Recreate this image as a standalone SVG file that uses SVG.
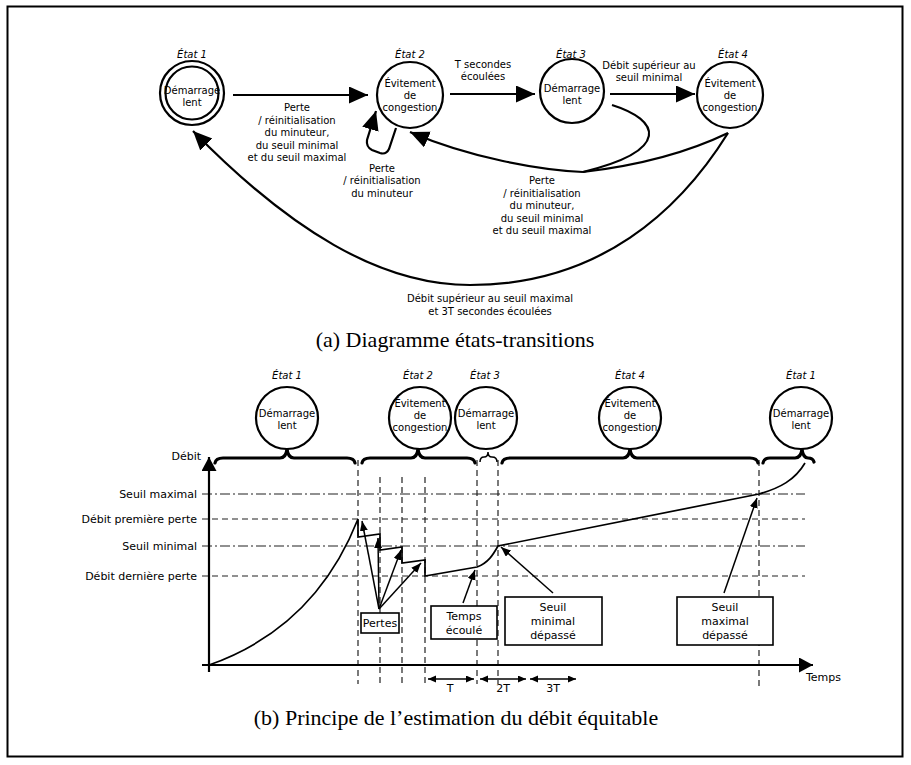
<svg xmlns="http://www.w3.org/2000/svg" width="911" height="765" viewBox="0 0 911 765">
<defs>
<marker id="big" markerUnits="userSpaceOnUse" markerWidth="20" markerHeight="18" refX="19" refY="8.5" orient="auto"><path d="M0,0 L19,8.5 L0,17 z" fill="#000"/></marker>
<marker id="ax" markerUnits="userSpaceOnUse" markerWidth="15" markerHeight="16" refX="14" refY="7.5" orient="auto"><path d="M0,0 L14,7.5 L0,15 z" fill="#000"/></marker>
<marker id="sm" markerUnits="userSpaceOnUse" markerWidth="11" markerHeight="9" refX="10" refY="4" orient="auto"><path d="M0,0 L10,4 L0,8 z" fill="#000"/></marker>
<marker id="sm2" markerUnits="userSpaceOnUse" markerWidth="10" markerHeight="8" refX="8" refY="3.5" orient="auto-start-reverse"><path d="M0,0 L8,3.5 L0,7 z" fill="#000"/></marker>
</defs>
<style>
.t{font-family:"DejaVu Sans",sans-serif;font-size:10px;text-anchor:middle;fill:#000}
.l{font-size:11px}
.e{text-anchor:end}
.st{text-anchor:start}
.it{font-style:italic}
.node{fill:#fff;stroke:#000;stroke-width:2.2}
.edge{fill:none;stroke:#000;stroke-width:2.2}
.thin{fill:none;stroke:#000;stroke-width:1.5}
.cap{font-family:"Liberation Serif",serif;font-size:22px;text-anchor:middle;fill:#000}
.dash{stroke:#222;stroke-width:1.2;stroke-dasharray:6 4;fill:none}
.dd{stroke:#222;stroke-width:1.2;stroke-dasharray:10 3 2 3;fill:none}
.box{fill:#fff;stroke:#000;stroke-width:1.6}
.brace{fill:none;stroke:#000;stroke-width:3.2;stroke-linecap:round;stroke-linejoin:round}
</style>
<rect x="7.5" y="6.5" width="895" height="750" fill="#fff" stroke="#000" stroke-width="2"/>

<!-- (a) state diagram -->
<g id="connectors-a">
<path class="edge" d="M233,95 L368,95" marker-end="url(#big)"/>
<path class="edge" d="M450,94 L535,94" marker-end="url(#big)"/>
<path class="edge" d="M610,94 L695,94" marker-end="url(#big)"/>
<path class="edge" d="M396,128 L389,149 Q386,155 380,153 L372,150 Q366,147 367,140 L376,111" marker-end="url(#big)"/>
<path class="edge" d="M612,105 C660,120 672,150 583,172"/>
<path class="edge" d="M728,133 Q668,162 583,172"/>
<path class="edge" d="M583,172 C540,170 470,158 410,132" marker-end="url(#big)"/>
<path class="edge" d="M728,133 C680,210 600,285 470,285 C380,285 290,230 193,131" marker-end="url(#big)"/>
<g class="t">
<text x="483" y="67.5">T secondes</text><text x="483" y="80">écoulées</text>
<text x="649" y="68.5">Débit supérieur au</text><text x="649" y="81">seuil minimal</text>
<text x="297" y="111">Perte</text><text x="297" y="123.5">/ réinitialisation</text><text x="297" y="136">du minuteur,</text><text x="297" y="148.5">du seuil minimal</text><text x="297" y="161">et du seuil maximal</text>
<text x="382" y="171.5">Perte</text><text x="382" y="184">/ réinitialisation</text><text x="382" y="196.5">du minuteur</text>
<text x="542" y="184">Perte</text><text x="542" y="196.5">/ réinitialisation</text><text x="542" y="209">du minuteur,</text><text x="542" y="221.5">du seuil minimal</text><text x="542" y="234">et du seuil maximal</text>
<text x="490" y="302">Débit supérieur au seuil maximal</text><text x="490" y="314.5">et 3T secondes écoulées</text>
</g>
</g>

<g id="etat1">
<circle class="node" cx="192" cy="93" r="32"/><circle class="node" cx="192" cy="93" r="26.5"/>
<text class="t it" x="192" y="58">État 1</text>
<text class="t" x="192" y="93.5">Démarrage</text><text class="t" x="192" y="106">lent</text>
</g>
<g id="etat2">
<circle class="node" cx="410" cy="95" r="33"/>
<text class="t it" x="410" y="58">État 2</text>
<text class="t" x="410" y="87">Évitement</text><text class="t" x="410" y="99">de</text><text class="t" x="410" y="111">congestion</text>
</g>
<g id="etat3">
<circle class="node" cx="572" cy="91" r="32"/>
<text class="t it" x="571" y="58">État 3</text>
<text class="t" x="572" y="92">Démarrage</text><text class="t" x="572" y="104">lent</text>
</g>
<g id="etat4">
<circle class="node" cx="730" cy="95" r="33"/>
<text class="t it" x="733" y="58">État 4</text>
<text class="t" x="730" y="87">Évitement</text><text class="t" x="730" y="99">de</text><text class="t" x="730" y="111">congestion</text>
</g>

<text class="cap" x="455" y="347">(a)  Diagramme états-transitions</text>

<!-- (b) chart -->
<g id="grid">
<path class="dd" d="M202,494 H805"/>
<path class="dash" d="M202,519 H805"/>
<path class="dd" d="M202,546 H805"/>
<path class="dash" d="M202,576 H805"/>
<path class="dash" d="M358,460 V684"/>
<path class="dash" d="M380,477 V684"/>
<path class="dash" d="M402,477 V684"/>
<path class="dash" d="M425,477 V684"/>
<path class="dash" d="M477,460 V684"/>
<path class="dash" d="M498,460 V684"/>
<path class="dash" d="M759,460 V688"/>
</g>
<g id="axes">
<path class="edge" d="M209,672 V457" marker-end="url(#ax)"/>
<path class="edge" d="M202,665 H813" marker-end="url(#ax)"/>
<text class="t l e" x="201" y="460">Débit</text>
<text class="t l e" x="197" y="498">Seuil maximal</text>
<text class="t l e" x="197" y="523">Débit première perte</text>
<text class="t l e" x="197" y="550">Seuil minimal</text>
<text class="t l e" x="197" y="580">Débit dernière perte</text>
<text class="t l st" x="806" y="681">Temps</text>
</g>
<g id="courbe">
<path class="edge" style="stroke-width:1.7" d="M209,665 C280,640 330,590 358,519 L358,537 L380,534 L380,550 L402,547 L402,563 L425,560 L425,576 L477,567 C488,563 493,555 498,546 L759,494 C780,488 795,480 805,463"/>
</g>
<g id="braces">
<path class="brace" d="M215,463 Q216,458 223,458 L280,458 Q286,458 287,449 Q288,458 294,458 L347,458 Q354,458 355,463"/>
<path class="brace" d="M362,463 Q363,458 370,458 L411,458 Q417,458 418,449 Q419,458 425,458 L467,458 Q474,458 475,463"/>
<path class="thin" d="M480,462 Q480,457 484,457 Q488,457 488,452 Q488,457 492,457 Q497,457 497,462"/>
<path class="brace" d="M502,463 Q503,458 510,458 L623,458 Q629,458 630,449 Q631,458 637,458 L750,458 Q757,458 758,463"/>
<path class="brace" d="M763,463 Q764,458 770,458 L795,458 Q801,458 802,449 Q803,458 808,458 Q813,458 814,462"/>
</g>
<g id="etat1-b">
<circle class="node" cx="287" cy="418" r="31"/>
<text class="t it" x="287" y="379">État 1</text>
<text class="t" x="287" y="417">Démarrage</text><text class="t" x="287" y="429">lent</text>
</g>
<g id="etat2-b">
<circle class="node" cx="420" cy="418" r="31"/>
<text class="t it" x="418" y="379">État 2</text>
<text class="t" x="420" y="407">Évitement</text><text class="t" x="420" y="419">de</text><text class="t" x="420" y="431">congestion</text>
</g>
<g id="etat3-b">
<circle class="node" cx="486" cy="418" r="31"/>
<text class="t it" x="485" y="379">État 3</text>
<text class="t" x="486" y="417">Démarrage</text><text class="t" x="486" y="429">lent</text>
</g>
<g id="etat4-b">
<circle class="node" cx="630" cy="418" r="31"/>
<text class="t it" x="630" y="379">État 4</text>
<text class="t" x="630" y="407">Évitement</text><text class="t" x="630" y="419">de</text><text class="t" x="630" y="431">congestion</text>
</g>
<g id="etat1-c">
<circle class="node" cx="801" cy="418" r="31"/>
<text class="t it" x="801" y="379">État 1</text>
<text class="t" x="801" y="417">Démarrage</text><text class="t" x="801" y="429">lent</text>
</g>

<g id="connectors-b">
<path class="thin" d="M379,609 L362,521" marker-end="url(#sm)"/>
<path class="thin" d="M379,609 L378,538" marker-end="url(#sm)"/>
<path class="thin" d="M379,609 L401,550" marker-end="url(#sm)"/>
<path class="thin" d="M379,609 L421,563" marker-end="url(#sm)"/>
<path class="thin" d="M463,603 L475,570" marker-end="url(#sm)"/>
<path class="thin" d="M553,593 L501,547" marker-end="url(#sm)"/>
<path class="thin" d="M724,593 L757,498" marker-end="url(#sm)"/>
<path class="thin" d="M428,679 H474" marker-start="url(#sm2)" marker-end="url(#sm2)"/>
<path class="thin" d="M480,679 H526" marker-start="url(#sm2)" marker-end="url(#sm2)"/>
<path class="thin" d="M530,679 H576" marker-start="url(#sm2)" marker-end="url(#sm2)"/>
<text class="t l" x="450" y="692">T</text>
<text class="t l" x="503" y="692">2T</text>
<text class="t l" x="553" y="692">3T</text>
</g>
<g id="pertes">
<rect class="box" x="361" y="613" width="38" height="20"/>
<text class="t l" x="380" y="627">Pertes</text>
</g>
<g id="temps-ecoule">
<rect class="box" x="431" y="606" width="66" height="33"/>
<text class="t l" x="464" y="619.5">Temps</text><text class="t l" x="464" y="634">écoulé</text>
</g>
<g id="seuil-min">
<rect class="box" x="505" y="597" width="97" height="48"/>
<text class="t l" x="553" y="611">Seuil</text><text class="t l" x="553" y="625">minimal</text><text class="t l" x="553" y="639">dépassé</text>
</g>
<g id="seuil-max">
<rect class="box" x="677" y="597" width="96" height="48"/>
<text class="t l" x="725" y="611">Seuil</text><text class="t l" x="725" y="625">maximal</text><text class="t l" x="725" y="639">dépassé</text>
</g>

<text class="cap" x="456" y="725">(b)  Principe de l’estimation du débit équitable</text>
</svg>
